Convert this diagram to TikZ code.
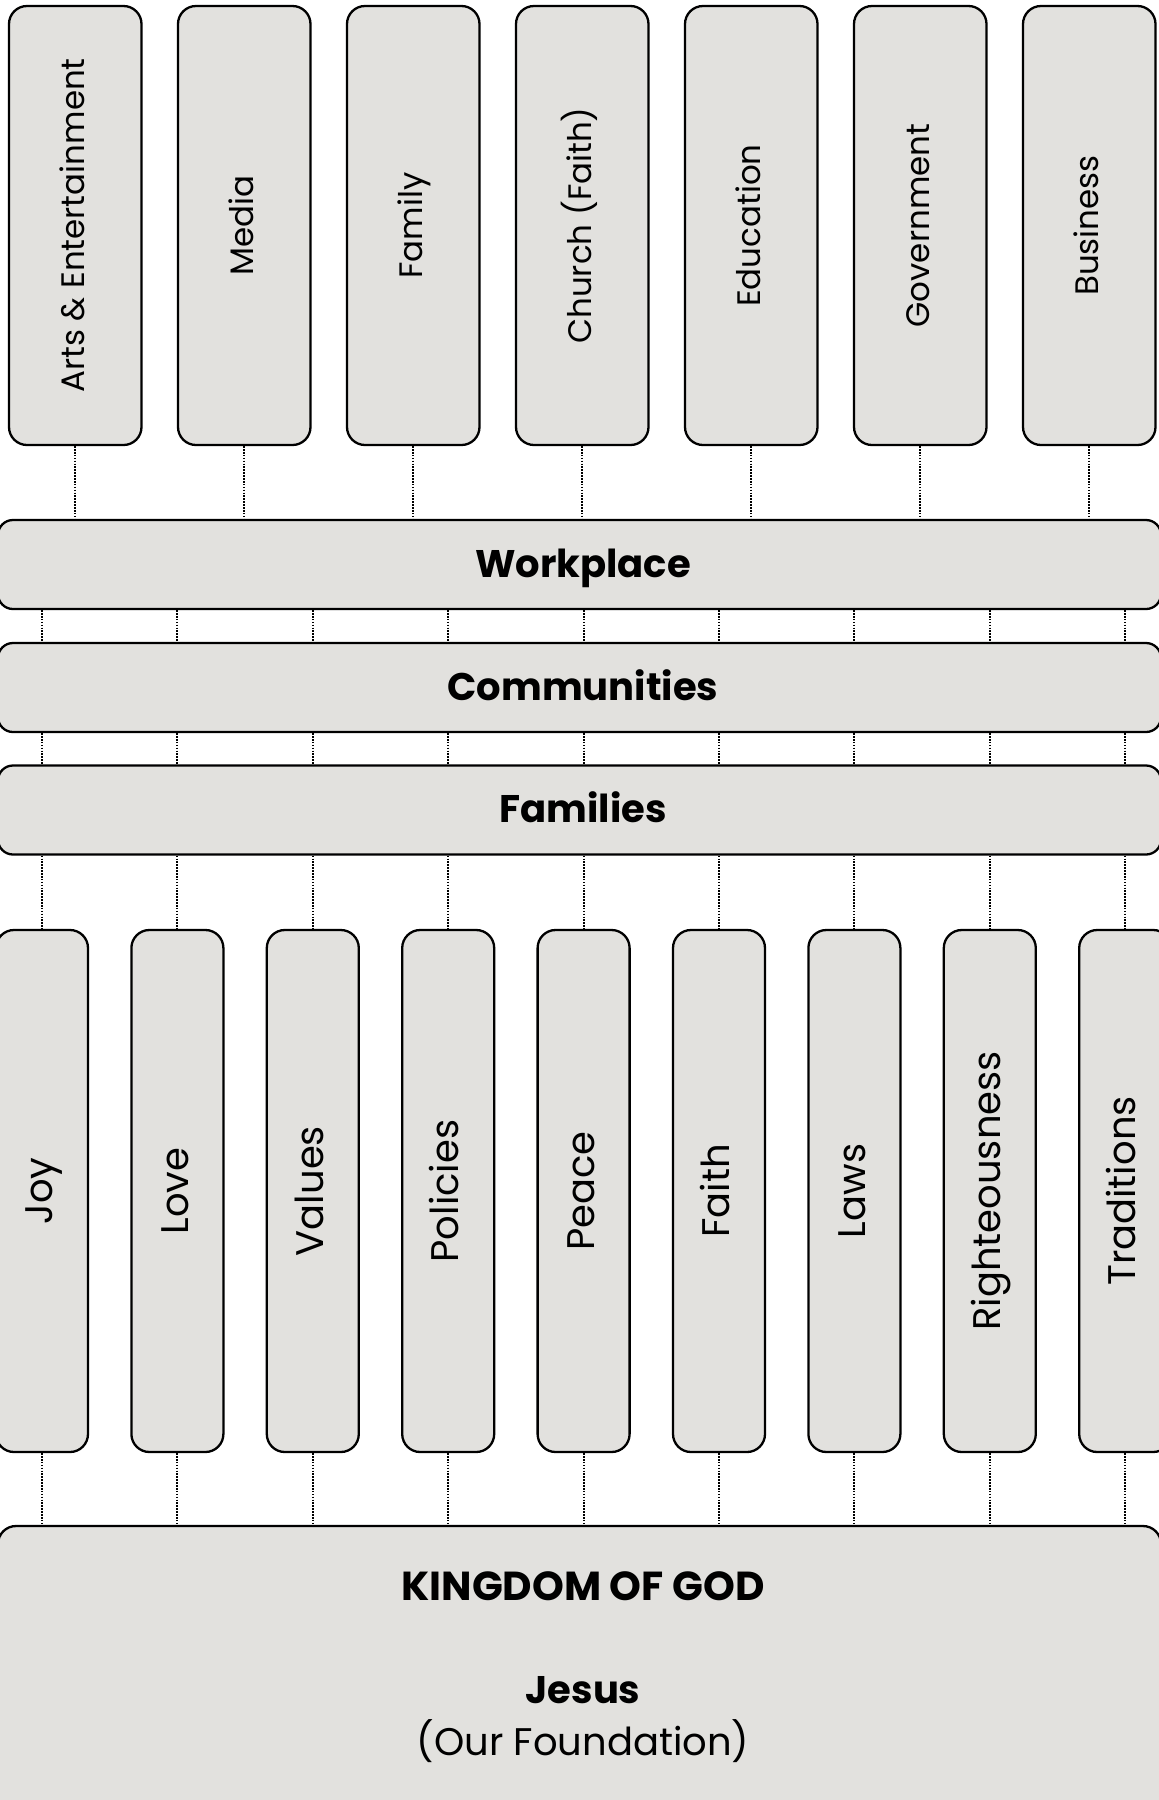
\documentclass[tikz,border=0pt]{standalone}
\usepackage{fontspec}
\setmainfont{Poppins}
\usetikzlibrary{positioning}
\definecolor{boxgray}{HTML}{E2E1DE}
\tikzset{
  box/.style={draw=black, fill=boxgray, line width=2.3pt, rounded corners=18pt, inner sep=0pt},
  topbox/.style={box, rotate=90, minimum width=439pt, minimum height=132.5pt,
    font=\fontsize{32.5pt}{39pt}\selectfont, text height=24.4pt, text depth=6.5pt},
  basebox/.style={box, rotate=90, minimum width=522pt, minimum height=92pt,
    font=\fontsize{38.5pt}{46pt}\selectfont, text height=28.9pt, text depth=7.7pt},
  bar/.style={box, rounded corners=15pt, minimum width=1163pt, minimum height=89pt,
    font=\fontsize{38.5pt}{46pt}\selectfont\bfseries, text height=28.9pt, text depth=3.9pt},
  link/.style={line width=1.9pt, dash pattern=on 1.6pt off 1.3pt}
}
\begin{document}
\begin{tikzpicture}[x=1pt, y=-1pt]
\useasboundingbox (0,0) rectangle (1159,1800);
% spheres of society
\foreach \name/\txt [count=\i from 0] in {arts/Arts \& Entertainment, media/Media,
    family/Family, church/Church (Faith), edu/Education, gov/Government, business/Business}
  \node[topbox] (\name) at ({75.25+169*\i},225.5) {\txt};
% the three layers
\node[bar] (work) at (579.5,564.5) {};
\node[bar] (comm) at (579.5,687.5) {};
\node[bar] (fam) at (579.5,810) {};
\foreach \name/\txt in {work/Workplace, comm/Communities, fam/Families}
  \node[font=\fontsize{38.5pt}{46pt}\selectfont\bfseries, text height=28.9pt, text depth=3.9pt]
    (\name-label) at ([xshift=3.5pt]\name) {\txt};
% pillars
\foreach \name/\txt [count=\i from 0] in {joy/Joy, love/Love, values/Values,
    policies/Policies, peace/Peace, faith/Faith, laws/Laws, right/Righteousness, trad/Traditions}
  \node[basebox] (\name) at ({42+135.4*\i},1191) {\txt};
% foundation
\node[box, minimum width=1163pt, minimum height=334pt] (king) at (579.5,1693) {};
\node[font=\fontsize{40.5pt}{48pt}\selectfont\bfseries] (kingtitle) at (583,1586) {KINGDOM OF GOD};
\node[font=\fontsize{38.5pt}{46pt}\selectfont\bfseries] (jesus) at (583,1690) {Jesus};
\node[font=\fontsize{38.5pt}{46pt}\selectfont] (ourfound) at (583,1741.5) {(Our Foundation)};
% dotted links
\foreach \name in {arts,media,family,church,edu,gov,business}
  \draw[link] (\name.west) -- (\name.west |- work.north);
\foreach \name in {joy,love,values,policies,peace,faith,laws,right,trad}{
  \draw[link] (work.south -| \name) -- (comm.north -| \name);
  \draw[link] (comm.south -| \name) -- (fam.north -| \name);
  \draw[link] (fam.south -| \name) -- (\name.east);
  \draw[link] (\name.west) -- (king.north -| \name);
}
\end{tikzpicture}
\end{document}
